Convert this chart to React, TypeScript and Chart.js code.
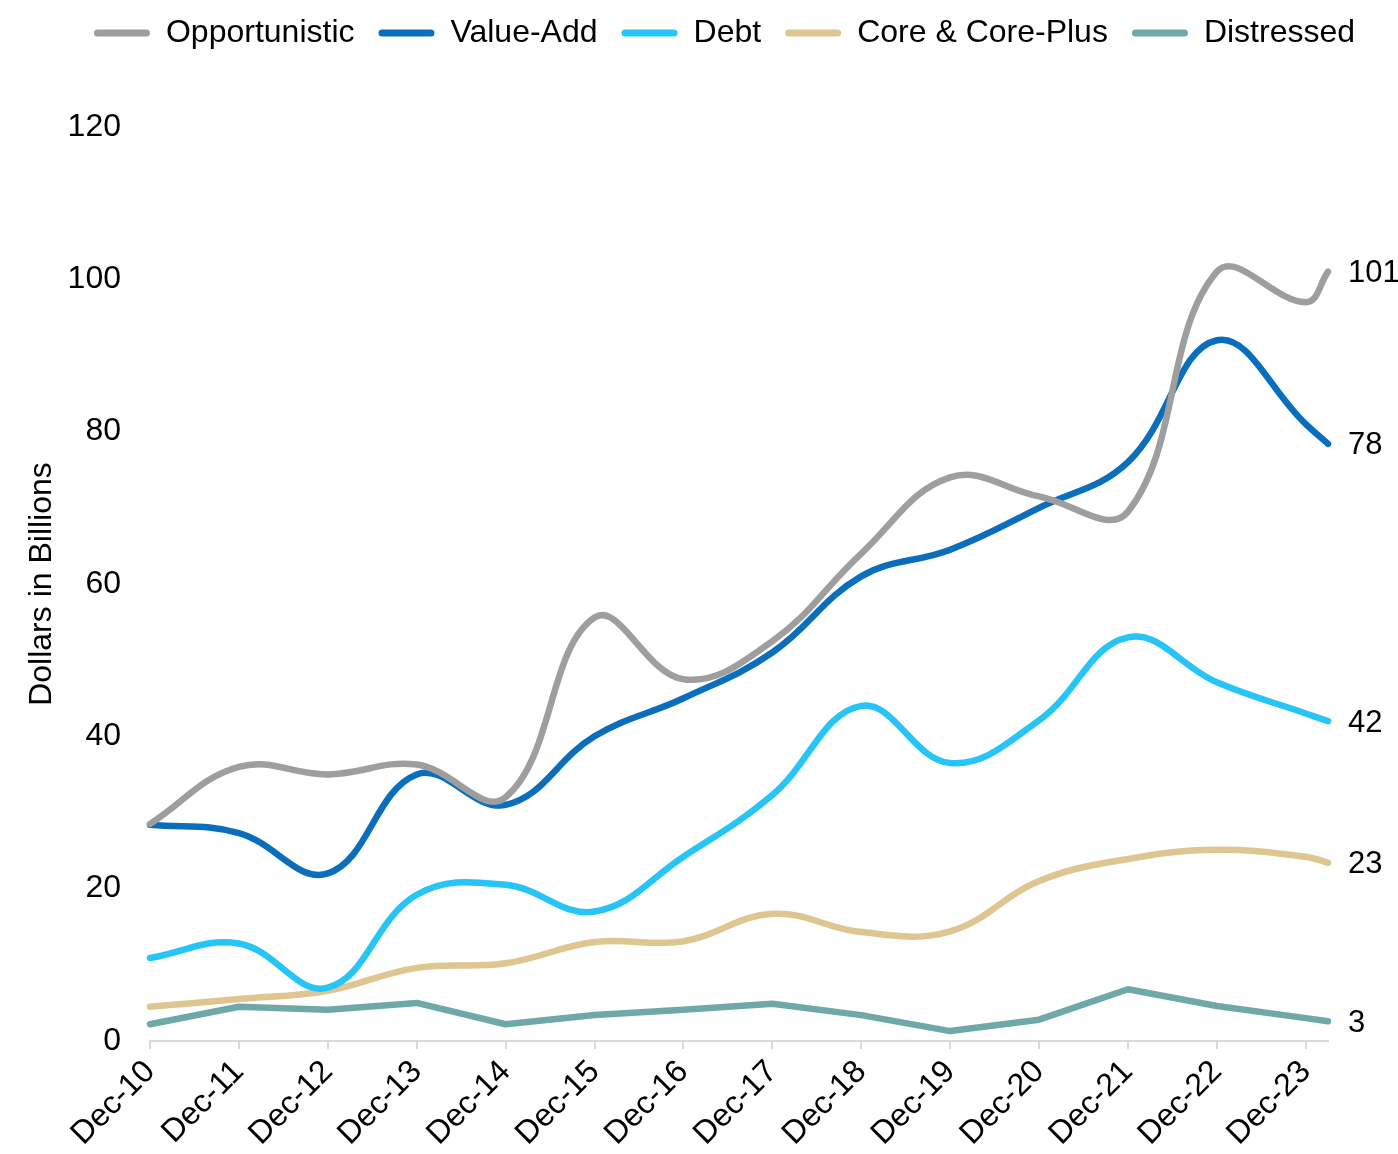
import React, { useEffect, useRef } from 'react';
import { Chart, registerables } from 'chart.js';

Chart.register(...registerables);

// Period labels and their position in years after Dec-10
const periodLabels = ['Dec-10', 'Dec-11', 'Dec-12', 'Dec-13', 'Dec-14', 'Dec-15', 'Dec-16', 'Dec-17', 'Dec-18', 'Dec-19', 'Dec-20', 'Dec-21', 'Dec-22', 'Dec-23', 'Mar-24'];
const periodOffsets = [0, 1, 2, 3, 4, 5, 6, 7, 8, 9, 10, 11, 12, 13, 13.25];

// Dollars in billions
const opportunistic = [28.5, 36, 35, 36.3, 32, 55.6, 47.5, 52.5, 64, 74, 71.5, 69.5, 101, 97, 101];
const valueAdd = [28.4, 27.3, 22, 35, 31, 40, 45, 51, 61, 64.5, 70, 76, 92, 81, 78.4];
const debt = [10.9, 12.8, 7, 19.2, 20.5, 17, 24.2, 32.3, 44, 36.5, 42.1, 53, 47.1, 43, 42];
const coreCorePlus = [4.5, 5.5, 6.6, 9.6, 10.2, 13, 13.1, 16.7, 14.3, 14.4, 21, 23.9, 25.1, 24.2, 23.4];
const distressed = [2.2, 4.5, 4.1, 5, 2.2, 3.4, 4.1, 4.9, 3.4, 1.3, 2.8, 6.8, 4.6, 3, 2.6];

const seriesNames = ['Opportunistic', 'Value-Add', 'Debt', 'Core & Core-Plus', 'Distressed'];
const seriesValues = [opportunistic, valueAdd, debt, coreCorePlus, distressed];
const seriesColors = ['#9E9E9E', '#0A6EBD', '#27C4F8', '#DFC690', '#6FA8A8'];
const seriesTension = [0.4, 0.4, 0.4, 0.4, 0];

const yMin = 0;
const yMax = 120;
const yStep = 20;
const yTitle = 'Dollars in Billions';

const FONT = '"Liberation Sans", Arial, Helvetica, sans-serif';

const endLabelPlugin = {
  id: 'endLabels',
  afterDatasetsDraw(chart: any) {
    const ctx = chart.ctx;
    ctx.save();
    ctx.font = `31px ${FONT}`;
    ctx.fillStyle = '#000';
    ctx.textAlign = 'left';
    ctx.textBaseline = 'middle';
    chart.data.datasets.forEach((ds: any, i: number) => {
      const meta = chart.getDatasetMeta(i);
      const pt = meta.data[meta.data.length - 1];
      const v = ds.data[ds.data.length - 1].y;
      ctx.fillText(String(Math.round(v)), pt.x + 20, pt.y + 2);
    });
    ctx.restore();
  },
};

const legendLayoutPlugin = {
  id: 'legendLayout',
  beforeInit(chart: any) {
    const legend = chart.legend;
    if (legend && !legend.__patched) {
      const origFit = legend.fit;
      legend.fit = function () {
        origFit.call(this);
        this.height += 68;
      };
      legend.__patched = true;
    }
  },
  afterLayout(chart: any) {
    const legend = chart.legend;
    if (legend) {
      legend.left += 54;
      legend.right += 54;
    }
  },
};

export default function App() {
  const canvasRef = useRef<HTMLCanvasElement | null>(null);

  useEffect(() => {
    if (!canvasRef.current) return;
    Chart.defaults.font.family = FONT;
    Chart.defaults.color = '#000';

    const datasets = seriesNames.map((name, s) => ({
      label: name,
      data: periodOffsets.map((x, i) => ({ x, y: seriesValues[s][i] })),
      borderColor: seriesColors[s],
      backgroundColor: seriesColors[s],
      borderWidth: 6.5,
      borderCapStyle: 'round' as const,
      borderJoinStyle: 'round' as const,
      pointRadius: 0,
      pointHoverRadius: 0,
      tension: seriesTension[s],
      fill: false,
      clip: false as any,
    }));

    const chart = new Chart(canvasRef.current, {
      type: 'line',
      data: { datasets },
      plugins: [legendLayoutPlugin, endLabelPlugin],
      options: {
        animation: false,
        responsive: false,
        layout: { padding: { left: 13, right: 70, top: -7, bottom: 0 } },
        plugins: {
          tooltip: { enabled: false },
          legend: {
            display: true,
            position: 'top',
            align: 'center',
            labels: {
              font: { size: 32, family: FONT },
              color: '#000',
              boxWidth: 56,
              boxHeight: 7,
              padding: 24,
              generateLabels: (c: any) =>
                c.data.datasets.map((ds: any, i: number) => ({
                  text: ds.label,
                  fillStyle: ds.borderColor,
                  strokeStyle: ds.borderColor,
                  lineWidth: 0,
                  hidden: false,
                  datasetIndex: i,
                  borderRadius: 3.5,
                  fontColor: '#000',
                })),
            },
          },
        },
        scales: {
          x: {
            type: 'linear',
            min: periodOffsets[0],
            max: periodOffsets[periodOffsets.length - 1],
            afterBuildTicks: (scale: any) => {
              scale.ticks = periodLabels
                .filter((l) => l.startsWith('Dec'))
                .map((l) => ({ value: periodOffsets[periodLabels.indexOf(l)] }));
            },
            afterFit: (scale: any) => {
              scale.height = 113;
            },
            ticks: {
              autoSkip: false,
              minRotation: 45,
              maxRotation: 45,
              padding: 4,
              font: { size: 32, family: FONT },
              color: '#000',
              callback: (v: any) => periodLabels[periodOffsets.indexOf(Number(v))] ?? '',
            },
            grid: {
              display: true,
              drawOnChartArea: false,
              drawTicks: true,
              tickLength: 8,
              color: '#D9D9D9',
              lineWidth: 2,
            },
            border: { display: true, color: '#D9D9D9', width: 2 },
          },
          y: {
            type: 'linear',
            min: yMin,
            max: yMax,
            afterFit: (scale: any) => {
              scale.width = 137;
            },
            ticks: {
              stepSize: yStep,
              padding: 29,
              font: { size: 32, family: FONT },
              color: '#000',
            },
            grid: { display: false, drawTicks: false },
            border: { display: false },
            title: {
              display: true,
              text: yTitle,
              font: { size: 32, family: FONT },
              color: '#000',
              padding: { top: 10, bottom: 6 },
            },
          },
        },
      },
    });

    return () => {
      chart.destroy();
    };
  }, []);

  return (
    <div style={{ position: 'absolute', left: 0, top: 0, width: 1398, height: 1154, background: '#fff' }}>
      <canvas ref={canvasRef} width={1398} height={1154} style={{ width: 1398, height: 1154 }} />
    </div>
  );
}
